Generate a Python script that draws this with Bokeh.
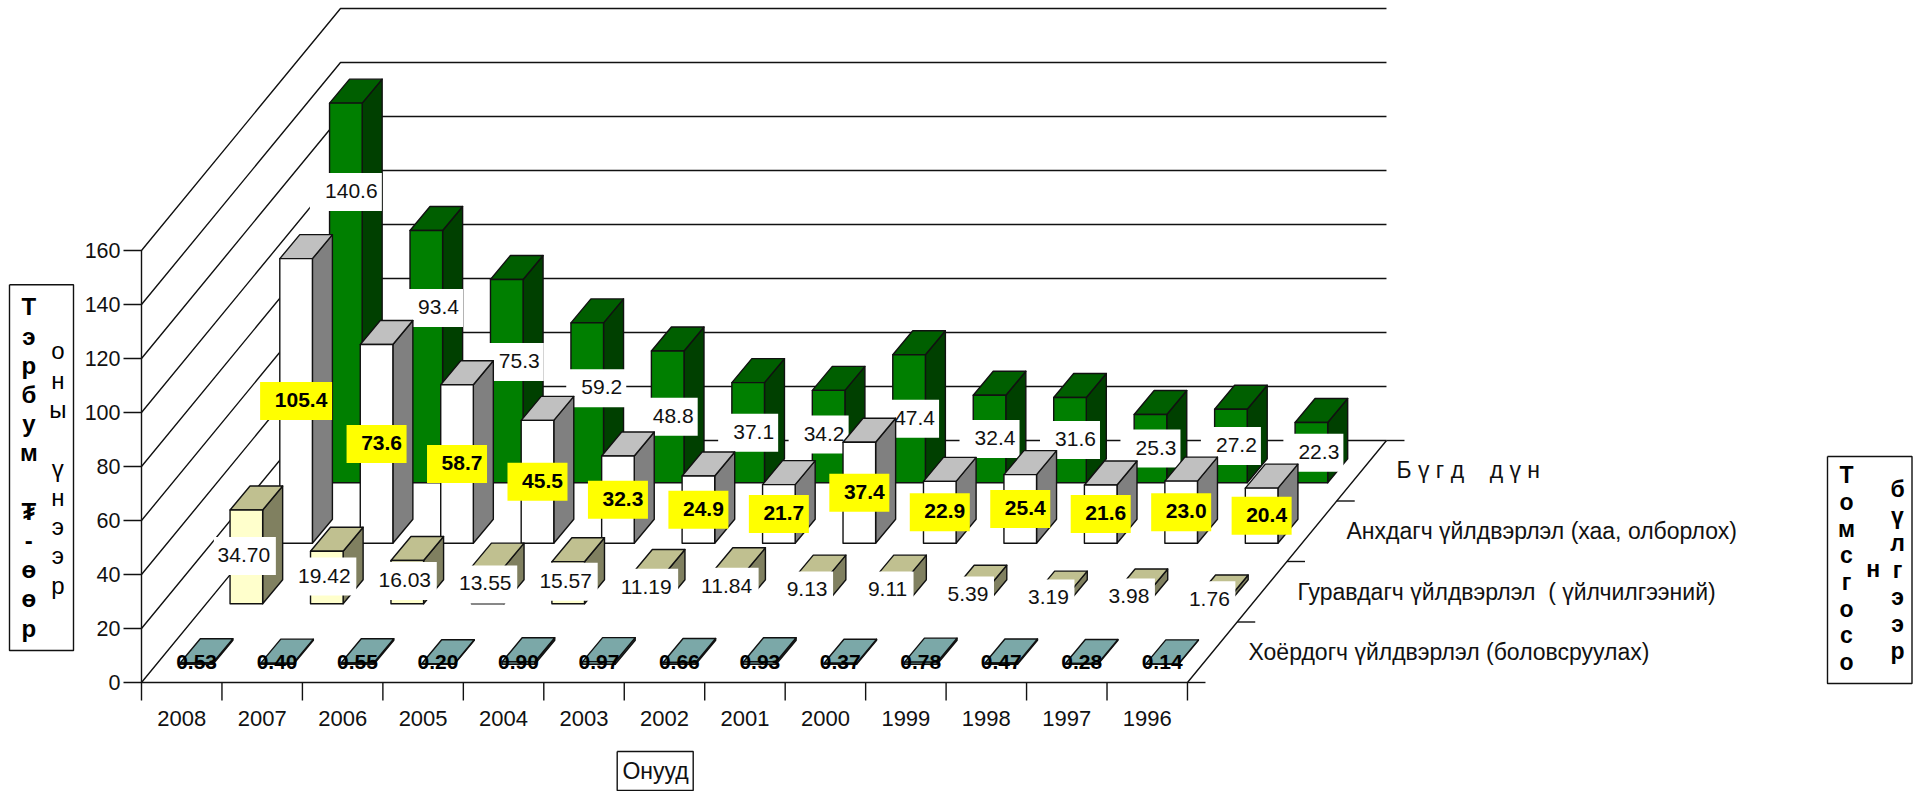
from bokeh.plotting import figure
from bokeh.models import Range1d
from bokeh.core.properties import value
from bokeh.embed import file_html
from bokeh.resources import INLINE

# ---- data ----
years = ["2008","2007","2006","2005","2004","2003","2002","2001","2000","1999","1998","1997","1996"]
secondary = [0.53,0.40,0.55,0.20,0.90,0.97,0.66,0.93,0.37,0.78,0.47,0.28,0.14]
tertiary = [34.70,19.42,16.03,13.55,15.57,11.19,11.84,9.13,9.11,5.39,3.19,3.98,1.76]
primary = [105.4,73.6,58.7,45.5,32.3,24.9,21.7,37.4,22.9,25.4,21.6,23.0,20.4]
total = [140.6,93.4,75.3,59.2,48.8,37.1,34.2,47.4,32.4,31.6,25.3,27.2,22.3]
y_ticks = [0,20,40,60,80,100,120,140,160]
series_names = ["Хоёрдогч үйлдвэрлэл (боловсруулах)",
                "Гуравдагч үйлдвэрлэл \u00a0( үйлчилгээний)",
                "Анхдагч үйлдвэрлэл (хаа, олборлох)",
                "Б ү г д \u00a0\u00a0\u00a0д ү н"]
left_title_1 = "Тэрбум ₮-өөр"
left_title_2 = "оны үнээр"
right_title_1 = "Томсгосо"
right_title_2 = "н"
right_title_3 = "бүлгээр"
x_title = "Онууд"

# hand-moved total labels (screen px from the bar's middle)
total_label_dx = [0,6.7,7,9,0,0,-10,0,0,0,0,0,2]
total_label_dy = [-101,-48.6,-19,-14.5,0,0,-2,0,0,0,0,0,0]

# ---- oblique projection ----
X0, Y0 = 141.0, 682.0
CW = 80.46          # column width on screen
DX, DY = 49.75, -60.5  # one series row of depth
PX = 2.70           # px per value unit
BAR_W, BAR_DX, BAR_DY = 32.6, 20.0, -24.0

def sx(c, d=0.0):
    return X0 + CW*c + DX*d

def sy(v, d=0.0):
    return Y0 - PX*v + DY*d

FONT = value("Liberation Sans")
p = figure(width=1913, height=791, x_range=Range1d(0, 1913), y_range=Range1d(791, 0),
           toolbar_location=None, output_backend="svg", min_border=0,
           x_axis_type=None, y_axis_type=None, outline_line_color=None)
p.grid.visible = False

LW = 1.4
def lines(xs, ys, color="#111111", w=LW):
    p.multi_line(xs, ys, line_color=color, line_width=w)

def texts(x, y, t, size, align="center", base="middle", style="normal", color="#111111"):
    p.text(x, y, text=t, text_font=FONT, text_font_size=size, text_align=align,
           text_baseline=base, text_font_style=style, text_color=color)

# ---- walls, floor, ticks ----
xs, ys = [], []
for v in y_ticks:
    xs.append([sx(0)-18, sx(0), sx(0,4), sx(13,4)])
    ys.append([sy(v), sy(v), sy(v,4), sy(v,4)])
xs.append([sx(0), sx(0)]); ys.append([sy(0), sy(160)])
xs.append([sx(0), sx(13), sx(13,4)]); ys.append([sy(0), sy(0), sy(0,4)])
for c in range(14):
    xs.append([sx(c), sx(c)]); ys.append([sy(0), sy(0)+18])
for d in range(5):
    xs.append([sx(13,d), sx(13,d)+18]); ys.append([sy(0,d), sy(0,d)])
lines(xs, ys)

texts([sx(0)-21]*len(y_ticks), [sy(v) for v in y_ticks], [str(v) for v in y_ticks], "21.5px", align="right")
texts([sx(c+0.5) for c in range(13)], [718]*13, years, "22px")

# ---- bars ----
def bar_faces(vals, row):
    fx, fy, tx, ty, rx, ry = [], [], [], [], [], []
    for c, v in enumerate(vals):
        cx = sx(c+0.5, row+0.5) - BAR_DX/2
        base = sy(0, row+0.5) - BAR_DY/2
        l, r = cx-BAR_W/2, cx+BAR_W/2
        top = base - PX*v
        fx.append([l, r, r, l]); fy.append([base, base, top, top])
        tx.append([l, r, r+BAR_DX, l+BAR_DX]); ty.append([top, top, top+BAR_DY, top+BAR_DY])
        rx.append([r, r+BAR_DX, r+BAR_DX, r]); ry.append([base, base+BAR_DY, top+BAR_DY, top])
    return (fx, fy), (tx, ty), (rx, ry)

def draw_bars(vals, row, front, top, side):
    f, t, r = bar_faces(vals, row)
    for (a, b), col in ((r, side), (t, top), (f, front)):
        p.patches(a, b, fill_color=col, line_color="#111111", line_width=LW, line_join="round")

def centers(vals, row):
    f, _, _ = bar_faces(vals, row)
    return [(a[0]+a[1])/2 for a in f[0]], [(b[0]+b[2])/2 for b in f[1]]

def label_boxes(cx, cy, widths, color):
    p.rect(cx, cy, width=widths, height=[38]*len(cx), fill_color=color, line_color=None)

# total (green, back row)
draw_bars(total, 3, "#007F00", "#005F00", "#004000")
cx, cy = centers(total, 3)
cx = [a+b for a, b in zip(cx, total_label_dx)]
cy = [a+b for a, b in zip(cy, total_label_dy)]
tl = [f"{v:.1f}" for v in total]
label_boxes(cx, cy, [72 if len(t) > 4 else 60 for t in tl], "white")
texts([a+5.5 for a in cx], [a-1 for a in cy], tl, "21px")

# primary (white)
draw_bars(primary, 2, "#FFFFFF", "#C0C0C0", "#808080")
cx, cy = centers(primary, 2)
tl = [f"{v:.1f}" for v in primary]
label_boxes(cx, cy, [72 if len(t) > 4 else 60 for t in tl], "#FFFF00")
texts([a+5 for a in cx], [a-1 for a in cy], tl, "21px", style="bold", color="black")

# tertiary (khaki)
draw_bars(tertiary, 1, "#FFFFCC", "#C0C090", "#808060")
cx, cy = centers(tertiary, 1)
cx = [a-1.5 for a in cx]
cy = [a-1 for a in cy]
tl = [f"{v:.2f}" for v in tertiary]
label_boxes(cx, cy, [62 if len(t) > 4 else 50 for t in tl], "white")
texts([a-1 for a in cx], [a-1 for a in cy], tl, "21px")

# secondary (teal, front row)
draw_bars(secondary, 0, "#7FAAAA", "#7BA8A8", "#446666")
cx, cy = centers(secondary, 0)
texts(cx, [661]*13, [f"{v:.2f}" for v in secondary], "21px", style="bold", color="black")

# ---- series names on the depth axis ----
name_xy = [(1248, 651), (1297, 591), (1346, 530), (1396, 469.5)]
for (nx, ny), n in zip(name_xy, series_names):
    texts([nx], [ny], [n], "23px", align="left")

# ---- boxed titles ----
def box(x0, y0, x1, y1):
    p.line([x0, x1, x1, x0, x0], [y0, y0, y1, y1, y0], line_color="#111111", line_width=LW)

def stacked(chars, x, y0, step, size, style="normal"):
    xx, yy, tt = [], [], []
    for i, ch in enumerate(chars):
        if ch != " ":
            xx.append(x); yy.append(y0+step*i); tt.append(ch)
    texts(xx, yy, tt, size, base="alphabetic", style=style, color="black")

box(9, 284.3, 73, 650)
stacked(left_title_1, 28.3, 306.3, 29.2, "24px", "bold")
stacked(left_title_2, 57.3, 350.3, 29.3, "24px")

box(1827, 456, 1911.5, 683)
stacked(right_title_1, 1846, 474.7, 26.7, "23px", "bold")
stacked(right_title_2, 1872.7, 568.7, 26.7, "23px", "bold")
stacked(right_title_3, 1897, 488.7, 26.9, "23px", "bold")

box(616.7, 751, 692.7, 790)
texts([655], [770], [x_title], "23px")

open("out.html", "w").write(file_html(p, INLINE))
